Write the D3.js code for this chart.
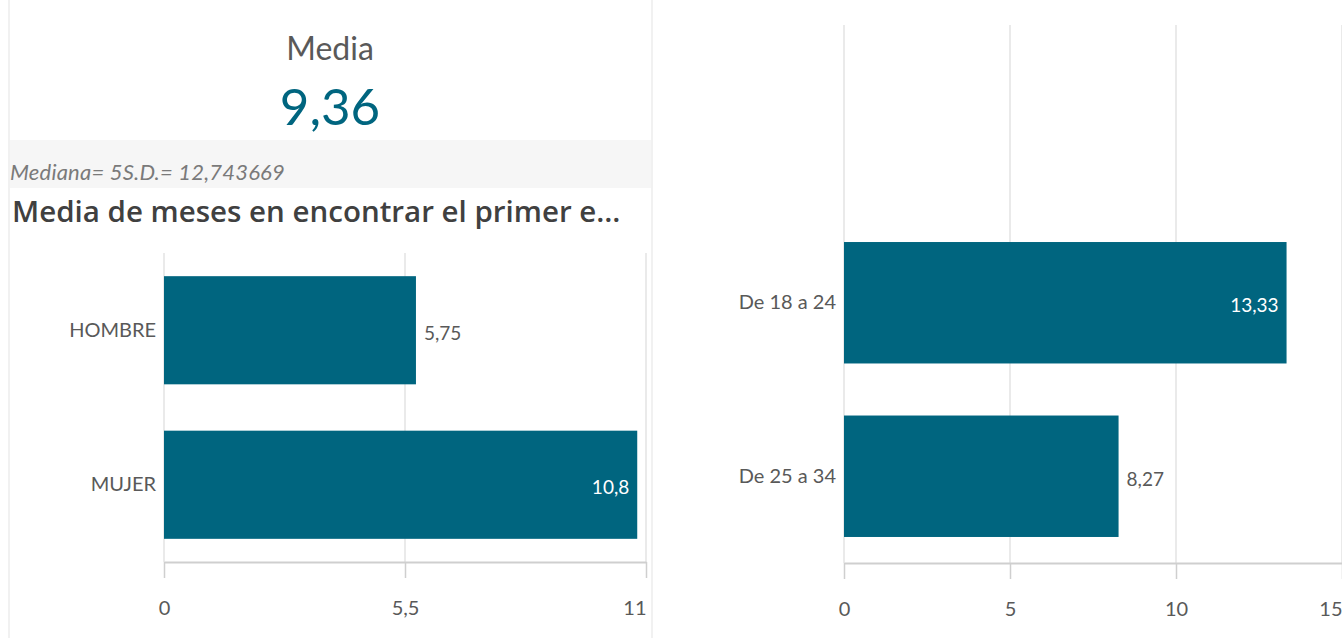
<!DOCTYPE html>
<html>
<head>
<meta charset="utf-8">
<script src="https://cdn.jsdelivr.net/npm/d3@7"></script>
<style>
body { margin: 0; background: #fff; }
text { font-family: Lato, sans-serif; }
</style>
</head>
<body>
<div id="graph"></div>
<script>
// données
const media = 9.36;
const mediaTitulo = "Media";
const pieTexto = "Mediana= 5S.D.= 12,743669";
const tituloGenero = "Media de meses en encontrar el primer e…";

const generos = ["HOMBRE", "MUJER"];
const mesesGenero = [5.75, 10.8];
const ticksGenero = [0, 5.5, 11];

const edades = ["De 18 a 24", "De 25 a 34"];
const mesesEdad = [13.33, 8.27];
const ticksEdad = [0, 5, 10, 15];

// constantes
const w = 1342;
const h = 638;
const azul = "#00657f";
const gris = "#595959";
const rejilla = "#e3e3e3";

// format avec virgule
const es = d3.formatLocale({decimal: ",", thousands: ".", grouping: [3], currency: ["", "€"]});
const fmt = es.format("~g");

const svg = d3.select("#graph")
    .append("svg")
    .attr("width", w)
    .attr("height", h);

// cadre du panneau gauche
svg.append("line").attr("x1", 9).attr("x2", 9).attr("y1", 0).attr("y2", h)
    .attr("stroke", "#ececec").attr("stroke-width", 1.5);
svg.append("line").attr("x1", 652).attr("x2", 652).attr("y1", 0).attr("y2", h)
    .attr("stroke", "#ececec").attr("stroke-width", 1.5);

// KPI
svg.append("text")
    .attr("x", 330).attr("y", 60)
    .attr("text-anchor", "middle")
    .attr("font-size", 32)
    .attr("fill", gris)
    .text(mediaTitulo);

svg.append("text")
    .attr("x", 330).attr("y", 125)
    .attr("text-anchor", "middle")
    .attr("font-size", 51)
    .attr("fill", azul)
    .text(fmt(media));

svg.append("rect")
    .attr("x", 10).attr("y", 140)
    .attr("width", 641).attr("height", 48)
    .attr("fill", "#f6f6f6");

svg.append("text")
    .attr("x", 10).attr("y", 180)
    .attr("font-size", 22)
    .attr("letter-spacing", 0.2)
    .attr("font-style", "italic")
    .attr("fill", "#7a7a7a")
    .text(pieTexto);

svg.append("text")
    .attr("x", 12).attr("y", 222)
    .style("font-family", "'Open Sans', sans-serif")
    .attr("font-size", 29.5)
    .attr("font-weight", 600)
    .attr("fill", "#404040")
    .text(tituloGenero);

// fonction pour un graphique à barres
function barras(cats, vals, ticks, xr, yr, gridTop) {
    let xScale = d3.scaleLinear()
        .domain([0, ticks[ticks.length - 1]])
        .range(xr);

    let yScale = d3.scaleBand()
        .domain(cats)
        .range(yr)
        .paddingInner(0.3)
        .paddingOuter(0.15);

    let g = svg.append("g");
    let base = yr[1];

    // rejilla
    g.selectAll(".grid")
        .data(ticks)
        .enter()
        .append("line")
        .attr("class", "grid")
        .attr("x1", d => xScale(d))
        .attr("x2", d => xScale(d))
        .attr("y1", gridTop)
        .attr("y2", base)
        .attr("stroke", rejilla)
        .attr("stroke-width", 1.5);

    // barres
    g.selectAll("rect")
        .data(vals)
        .enter()
        .append("rect")
        .attr("x", xScale(0))
        .attr("y", (d, i) => yScale(cats[i]))
        .attr("width", d => xScale(d) - xScale(0))
        .attr("height", yScale.bandwidth())
        .attr("fill", azul);

    // étiquettes de valeur
    let maxi = ticks[ticks.length - 1];
    g.selectAll(".valor")
        .data(vals)
        .enter()
        .append("text")
        .attr("class", "valor")
        .attr("x", d => d / maxi > 0.8 ? xScale(d) - 8 : xScale(d) + 8)
        .attr("y", (d, i) => yScale(cats[i]) + yScale.bandwidth() / 2 + 3)
        .attr("dy", "0.35em")
        .attr("text-anchor", d => d / maxi > 0.8 ? "end" : "start")
        .attr("font-size", 19)
        .attr("fill", d => d / maxi > 0.8 ? "#ffffff" : gris)
        .text(d => fmt(d));

    // axe x
    let axeX = d3.axisBottom(xScale)
        .tickValues(ticks)
        .tickFormat(fmt)
        .tickSizeInner(16)
        .tickSizeOuter(0)
        .tickPadding(23);

    let gx = g.append("g")
        .attr("transform", "translate(0," + base + ")")
        .call(axeX);
    gx.select(".domain").attr("stroke", "#cfcfcf").attr("stroke-width", 2);
    gx.selectAll(".tick line").attr("stroke", "#cfcfcf").attr("stroke-width", 1.5);
    gx.selectAll(".tick text")
        .attr("font-family", "Lato, sans-serif")
        .attr("font-size", 20)
        .attr("fill", gris);
    gx.selectAll(".tick text").filter((d, i) => i == ticks.length - 1)
        .attr("text-anchor", "end");

    // axe y
    let axeY = d3.axisLeft(yScale)
        .tickSize(0)
        .tickPadding(8);
    let gy = g.append("g")
        .attr("transform", "translate(" + xScale(0) + ",0)")
        .call(axeY);
    gy.select(".domain").remove();
    gy.selectAll(".tick text")
        .attr("font-family", "Lato, sans-serif")
        .attr("font-size", 20)
        .attr("fill", gris);
}

barras(generos, mesesGenero, ticksGenero, [164, 646], [253, 562], 253);
barras(edades, mesesEdad, ticksEdad, [844, 1342], [216, 563], 25);
</script>
</body>
</html>
